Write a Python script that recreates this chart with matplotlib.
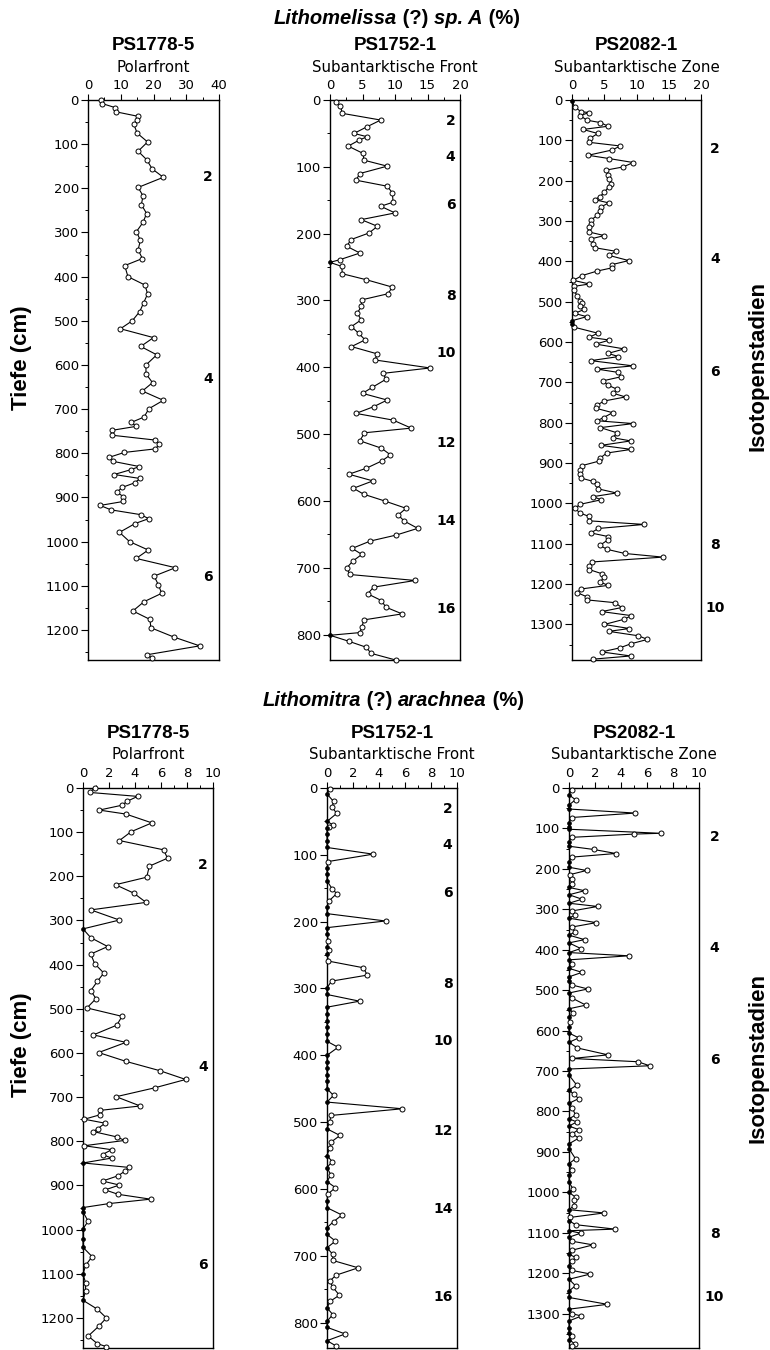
import matplotlib
matplotlib.use("Agg")
import matplotlib.pyplot as plt
from matplotlib.ticker import MultipleLocator
import matplotlib.transforms as mtransforms

# ---------------- data ----------------
# Lithomelissa (?) sp. A (%) -- PS1778-5
lm_1778_depth = [0, 8, 17, 27, 37, 46, 55, 75, 95, 116,
                 135, 156, 175, 198, 217, 237, 257, 277, 298, 318,
                 339, 359, 375, 400, 419, 439, 459, 479, 500, 518,
                 538, 558, 577, 600, 620, 640, 659, 680, 699, 718,
                 730, 739, 748, 759, 770, 780, 790, 798, 809, 818,
                 830, 837, 848, 857, 867, 877, 888, 898, 909, 918,
                 928, 939, 948, 959, 979, 1000, 1019, 1038, 1059, 1078,
                 1098, 1117, 1136, 1157, 1176, 1195, 1216, 1236, 1256, 1264]
lm_1778_value = [4.1, 4.3, 8.2, 8.7, 15.3, 15.0, 14.0, 15.0, 18.2, 15.3,
                 17.9, 19.6, 23.0, 15.3, 16.8, 16.3, 17.9, 16.8, 14.8, 16.0,
                 15.3, 16.6, 11.2, 12.2, 17.4, 18.2, 17.0, 15.8, 13.5, 9.9,
                 20.0, 16.1, 21.0, 17.7, 17.7, 19.7, 16.6, 23.0, 18.6, 17.1,
                 13.2, 14.7, 7.3, 7.3, 20.5, 21.8, 20.5, 11.1, 6.5, 7.5,
                 15.7, 13.1, 8.0, 15.9, 14.2, 10.5, 8.8, 10.8, 10.8, 3.7,
                 7.0, 16.2, 18.5, 14.4, 9.6, 12.7, 18.4, 14.7, 26.7, 20.2,
                 21.5, 22.5, 17.1, 13.7, 18.9, 19.2, 26.2, 34.1, 18.1, 19.6]

# Lithomelissa (?) sp. A (%) -- PS1752-1
lm_1752_depth = [2.5, 9, 20, 30, 40, 50, 55, 60, 69, 80,
                 90, 99, 110, 120, 129, 139, 153, 159, 169, 179,
                 189, 199, 209, 219, 229, 239, 243, 249, 260, 269,
                 280, 290, 299, 309, 319, 329, 339, 349, 359, 369,
                 380, 389, 401, 409, 418, 430, 439, 449, 459, 469,
                 479, 491, 498, 510, 521, 531, 540, 551, 560, 570,
                 581, 590, 600, 611, 621, 630, 641, 651, 660, 671,
                 680, 690, 700, 710, 719, 729, 739, 749, 759, 769,
                 778, 789, 797, 801, 810, 819, 828, 838]
lm_1752_value = [0.9, 1.6, 1.9, 7.8, 5.7, 3.7, 5.7, 4.5, 2.8, 5.1,
                 5.2, 8.8, 4.6, 4.0, 8.8, 9.6, 9.7, 7.8, 10.0, 4.8,
                 7.3, 6.0, 3.2, 2.6, 4.6, 1.5, 0, 1.8, 1.9, 5.6,
                 9.6, 8.9, 4.9, 4.8, 4.2, 4.8, 3.3, 4.4, 5.4, 3.3,
                 7.3, 6.9, 15.4, 8.2, 8.6, 6.5, 5.0, 8.8, 6.7, 4.0,
                 9.7, 12.5, 5.3, 4.6, 7.9, 9.3, 8.0, 5.6, 2.9, 6.6,
                 3.6, 5.2, 8.4, 11.7, 10.5, 11.4, 13.5, 10.2, 6.2, 3.4,
                 4.9, 3.5, 2.6, 3.0, 13.1, 6.7, 5.8, 7.9, 8.6, 11.1,
                 5.2, 4.9, 4.6, 0, 2.9, 5.6, 6.3, 10.1]

# Lithomelissa (?) sp. A (%) -- PS2082-1
lm_2082_depth = [2, 17, 29, 31, 39, 50, 56, 65, 73, 83,
                 95, 105, 114, 124, 137, 145, 155, 166, 174, 186,
                 197, 207, 215, 229, 240, 247, 255, 265, 276, 286,
                 297, 307, 316, 327, 336, 344, 356, 366, 375, 385,
                 398, 408, 416, 424, 435, 447, 456, 462, 472, 485,
                 497, 503, 510, 519, 529, 537, 547, 555, 563, 578,
                 588, 595, 605, 617, 628, 636, 646, 659, 667, 675,
                 686, 696, 707, 717, 727, 736, 746, 756, 764, 775,
                 787, 795, 802, 812, 825, 837, 845, 856, 866, 875,
                 887, 895, 906, 917, 927, 937, 945, 953, 964, 974,
                 983, 991, 1002, 1012, 1024, 1032, 1043, 1052, 1062, 1073,
                 1082, 1090, 1104, 1114, 1124, 1133, 1145, 1154, 1164, 1174,
                 1183, 1195, 1203, 1212, 1221, 1232, 1239, 1246, 1258, 1268,
                 1278, 1287, 1300, 1310, 1317, 1328, 1337, 1348, 1358, 1368,
                 1378, 1386]
lm_2082_value = [0, 0.4, 1.4, 2.6, 1.3, 2.3, 4.4, 5.6, 1.7, 4.0,
                 2.8, 2.7, 7.5, 6.2, 2.5, 5.7, 9.5, 7.9, 5.2, 5.6,
                 5.8, 6.1, 5.7, 5.0, 4.3, 3.5, 5.7, 4.5, 4.3, 3.9,
                 3.0, 2.9, 2.7, 2.6, 5.0, 3.0, 3.2, 3.5, 6.8, 5.7,
                 8.8, 6.2, 6.2, 3.9, 1.6, 0.2, 2.7, 0.3, 0.3, 0.8,
                 1.2, 1.5, 1.3, 1.9, 0.4, 2.3, 0, 0, 0.3, 4.0,
                 2.7, 5.8, 3.7, 8.1, 5.6, 7.2, 2.9, 9.5, 3.9, 7.1,
                 7.6, 4.8, 5.6, 7.0, 6.4, 8.3, 5.0, 3.9, 3.7, 6.3,
                 4.9, 3.9, 9.5, 4.4, 7.0, 6.3, 9.1, 4.5, 9.2, 5.4,
                 4.4, 4.2, 1.6, 1.3, 1.3, 1.4, 3.2, 3.8, 4.1, 6.9,
                 3.3, 4.5, 1.3, 0.4, 1.3, 2.6, 2.6, 11.2, 4.1, 2.9,
                 5.6, 5.6, 4.3, 5.5, 8.2, 14.1, 3.1, 2.7, 2.7, 4.6,
                 4.9, 4.4, 5.6, 1.4, 0.8, 2.4, 2.3, 6.7, 7.7, 4.6,
                 9.2, 8.1, 5.0, 8.9, 5.7, 10.3, 11.7, 9.1, 7.4, 4.6,
                 9.1, 3.2]

# Lithomitra (?) arachnea (%) -- PS1778-5
la_1778_depth = [0, 10, 19, 30, 39, 50, 59, 79, 99, 119,
                 140, 159, 177, 202, 219, 238, 259, 276, 299, 319,
                 339, 359, 376, 398, 419, 438, 459, 477, 498, 517,
                 537, 559, 576, 599, 619, 640, 660, 679, 699, 720,
                 730, 740, 750, 759, 771, 778, 790, 798, 810, 819,
                 830, 838, 849, 859, 868, 878, 890, 899, 910, 920,
                 931, 941, 950, 960, 981, 998, 1021, 1040, 1061, 1081,
                 1101, 1120, 1139, 1160, 1180, 1200, 1219, 1241, 1258, 1265]
la_1778_value = [0.9, 0.5, 4.2, 3.4, 3.0, 1.25, 3.3, 5.3, 3.7, 2.8,
                 6.2, 6.5, 5.1, 4.9, 2.5, 3.9, 4.85, 0.6, 2.8, 0,
                 0.6, 1.9, 0.6, 0.9, 1.6, 1.1, 0.6, 1.0, 0.3, 3.0,
                 2.6, 0.8, 3.3, 1.2, 3.3, 5.9, 7.9, 5.5, 2.55, 4.4,
                 1.3, 1.3, 0.1, 1.7, 1.15, 0.8, 2.6, 3.2, 0.1, 2.2,
                 1.5, 2.2, 0, 3.5, 3.2, 2.7, 1.5, 2.8, 1.7, 2.7,
                 5.2, 2.0, 0, 0, 0.4, 0, 0, 0, 0.7, 0.2,
                 0, 0.2, 0.2, 0, 1.1, 1.8, 1.2, 0.4, 1.1, 1.8]

# Lithomitra (?) arachnea (%) -- PS1752-1
la_1752_depth = [1.5, 9, 20, 29, 38, 50, 55, 58, 60, 69,
                 79, 89, 99, 110, 119, 129, 139, 151, 158, 169,
                 178, 188, 199, 209, 218, 229, 238, 242, 248, 259,
                 269, 280, 289, 299, 309, 319, 328, 338, 348, 358,
                 368, 379, 388, 400, 410, 419, 430, 439, 450, 460,
                 470, 480, 490, 500, 510, 520, 530, 539, 550, 559,
                 568, 579, 589, 598, 608, 618, 628, 639, 649, 658,
                 668, 678, 688, 698, 707, 718, 729, 738, 747, 759,
                 768, 778, 788, 798, 807, 817, 827, 835]
la_1752_value = [0.2, 0, 0.5, 0.4, 0.75, 0, 0.45, 0.15, 0, 0,
                 0, 0, 3.55, 0.1, 0, 0, 0, 0.4, 0.75, 0.15,
                 0, 0, 4.5, 0, 0, 0.1, 0, 0.15, 0, 0.1,
                 2.8, 3.1, 0.35, 0, 0, 2.5, 0, 0, 0, 0,
                 0, 0, 0.85, 0, 0, 0, 0, 0, 0, 0.5,
                 0, 5.8, 0.3, 0.2, 0, 1.0, 0.3, 0.2, 0, 0.4,
                 0, 0.3, 0, 0.65, 0.05, 0, 0, 1.15, 0.5, 0,
                 0, 0.65, 0, 0.45, 0.45, 2.4, 0.7, 0.2, 0.45, 0.95,
                 0.25, 0, 0.45, 0, 0, 1.4, 0, 0.7]

# Lithomitra (?) arachnea (%) -- PS2082-1
la_2082_depth = [4, 17, 29, 42, 52, 62, 73, 86, 97, 102,
                 112, 114, 122, 133, 144, 152, 162, 171, 183, 196,
                 204, 214, 225, 237, 246, 254, 264, 275, 285, 293,
                 304, 314, 322, 333, 344, 356, 364, 375, 383, 397,
                 407, 415, 425, 436, 446, 456, 467, 477, 487, 497,
                 507, 519, 537, 546, 556, 567, 579, 592, 606, 618,
                 629, 643, 660, 669, 677, 687, 695, 710, 735, 747,
                 757, 768, 780, 791, 809, 818, 826, 836, 845, 855,
                 866, 880, 892, 917, 929, 946, 958, 975, 991, 1000,
                 1012, 1020, 1033, 1043, 1051, 1062, 1070, 1080, 1091, 1095,
                 1101, 1111, 1121, 1130, 1143, 1153, 1161, 1171, 1182, 1193,
                 1202, 1215, 1231, 1244, 1260, 1277, 1289, 1300, 1306, 1318,
                 1335, 1347, 1356, 1364, 1375, 1381]
la_2082_value = [0.2, 0, 0.5, 0, 0, 5.1, 0.2, 0, 0, 0,
                 7.05, 5.0, 0.2, 0, 0, 1.9, 3.6, 0.2, 0, 0,
                 1.35, 0.1, 0.25, 0.2, 0, 1.2, 0, 1.0, 0, 2.2,
                 0.25, 0.45, 0, 2.1, 0.2, 0.45, 0, 1.2, 0, 0.9,
                 0, 4.6, 0, 0.2, 0, 1.0, 0, 0, 0.2, 1.45,
                 0, 0.2, 1.3, 0, 0.3, 0, 0.1, 0, 0, 0.75,
                 0, 0.65, 3.0, 0.25, 5.3, 6.2, 0, 0, 0.6, 0,
                 0.35, 0.75, 0, 0.25, 0.5, 0, 0.6, 0, 0.75, 0.25,
                 0.75, 0, 0, 0.5, 0, 0.25, 0, 0, 0.3, 0,
                 0.5, 0.4, 0.4, 0, 2.7, 0.1, 0, 0.5, 3.55, 0,
                 0.9, 0, 0.25, 1.85, 0.25, 0, 0.5, 0.25, 0, 0.2,
                 1.65, 0, 0.5, 0, 0, 2.95, 0, 0.25, 0.95, 0,
                 0, 0, 0.2, 0, 0.45, 0.25]

# text
title_top = [("Lithomelissa", "italic"), (" (?) ", "normal"), ("sp. A", "italic"), (" (%)", "normal")]
title_bottom = [("Lithomitra", "italic"), (" (?) ", "normal"), ("arachnea", "italic"), (" (%)", "normal")]
cores = ["PS1778-5", "PS1752-1", "PS2082-1"]
regions = ["Polarfront", "Subantarktische Front", "Subantarktische Zone"]
stages_1778 = ["2", "4", "6"]
stages_1778_depth = [175, 632, 1080]
stages_1752 = ["2", "4", "6", "8", "10", "12", "14", "16"]
stages_1752_depth = [32, 85, 157, 294, 379, 513, 630, 762]
stages_2082 = ["2", "4", "6", "8", "10"]
stages_2082_depth = [122, 395, 673, 1103, 1258]

# ---------------- figure ----------------
W, H = 770, 1350
fig = plt.figure(figsize=(W / 100, H / 100), dpi=100)
fig.patch.set_facecolor("white")

TICKFONT = "DejaVu Sans"
BOLDFONT = "Liberation Sans"


def add_axes_px(left, top, right, bottom):
    return fig.add_axes([left / W, 1 - bottom / H, (right - left) / W, (bottom - top) / H])


def draw_panel(ax, depth, value, xmax, xmajor, xminor, ymax, core, region,
               st_labels, st_depths, st_x, st_ha):
    ax.plot(value, depth, color="black", lw=0.8, clip_on=False, zorder=3)
    nzv = [v for v in value if v > 0]
    nzd = [d for v, d in zip(value, depth) if v > 0]
    zv = [v for v in value if v <= 0]
    zd = [d for v, d in zip(value, depth) if v <= 0]
    ax.plot(nzv, nzd, "o", ms=3.6, mfc="white", mec="black", mew=0.7,
            clip_on=False, zorder=4)
    ax.plot(zv, zd, "o", ms=2.8, mfc="black", mec="black", mew=0.5,
            clip_on=False, zorder=4)
    ax.set_xlim(0, xmax)
    ax.set_ylim(ymax, 0)
    ax.xaxis.set_major_locator(MultipleLocator(xmajor))
    ax.xaxis.set_minor_locator(MultipleLocator(xminor))
    ax.yaxis.set_major_locator(MultipleLocator(100))
    ax.yaxis.set_minor_locator(MultipleLocator(50))
    ax.tick_params(axis="x", which="both", top=True, bottom=False,
                   labeltop=True, labelbottom=False, direction="out")
    ax.tick_params(axis="x", which="major", length=4, width=0.8, pad=1.5,
                   labelsize=9.5)
    ax.tick_params(axis="x", which="minor", length=2.5, width=0.7)
    ax.tick_params(axis="y", which="both", left=True, right=False,
                   direction="out")
    ax.tick_params(axis="y", which="major", length=5, width=0.8, pad=1.5,
                   labelsize=9.5)
    ax.tick_params(axis="y", which="minor", length=2.5, width=0.7)
    for lab in ax.get_xticklabels() + ax.get_yticklabels():
        lab.set_fontfamily(TICKFONT)
    for sp in ax.spines.values():
        sp.set_linewidth(1.0)
    trans = mtransforms.blended_transform_factory(ax.transAxes, ax.transData)
    for s, d in zip(st_labels, st_depths):
        ax.text(st_x, d, s, transform=trans, ha=st_ha, va="center",
                fontsize=10, fontweight="bold", family=TICKFONT, clip_on=False)
    # headers
    bb = ax.get_position()
    cx = (bb.x0 + bb.x1) / 2
    top_px = (1 - bb.y1) * H
    fig.text(cx, 1 - (top_px - 54) / H, core, ha="center", va="center",
             fontsize=13.5, fontweight="bold", family=BOLDFONT)
    fig.text(cx, 1 - (top_px - 33) / H, region, ha="center", va="center",
             fontsize=10.8, family=TICKFONT)


def rich_title(pieces, cx_px, cy_px, size):
    renderer = fig.canvas.get_renderer()
    texts = []
    widths = []
    for s, style in pieces:
        t = fig.text(0, 0, s, transform=mtransforms.IdentityTransform(),
                     fontsize=size, fontweight="bold", fontstyle=style,
                     family=BOLDFONT, ha="left", va="center")
        texts.append(t)
        widths.append(t.get_window_extent(renderer).width)
    total = sum(widths)
    x = cx_px - total / 2
    y = H - cy_px
    for t, w in zip(texts, widths):
        t.set_position((x, y))
        x += w


# top row
ax1 = add_axes_px(88, 100, 219, 660)
ax2 = add_axes_px(330, 100, 460, 660)
ax3 = add_axes_px(572, 100, 701, 660)
draw_panel(ax1, lm_1778_depth, lm_1778_value, 40, 10, 5, 1268, cores[0], regions[0],
           stages_1778, stages_1778_depth, 0.955, "right")
draw_panel(ax2, lm_1752_depth, lm_1752_value, 20, 5, 2.5, 838, cores[1], regions[1],
           stages_1752, stages_1752_depth, 0.965, "right")
draw_panel(ax3, lm_2082_depth, lm_2082_value, 20, 5, 2.5, 1388, cores[2], regions[2],
           stages_2082, stages_2082_depth, 1.11, "center")

# bottom row
ax4 = add_axes_px(83, 788, 213, 1348)
ax5 = add_axes_px(327, 788, 457, 1348)
ax6 = add_axes_px(569, 788, 699, 1348)
draw_panel(ax4, la_1778_depth, la_1778_value, 10, 2, 1, 1268, cores[0], regions[0],
           stages_1778, stages_1778_depth, 0.96, "right")
draw_panel(ax5, la_1752_depth, la_1752_value, 10, 2, 1, 838, cores[1], regions[1],
           stages_1752, stages_1752_depth, 0.965, "right")
draw_panel(ax6, la_2082_depth, la_2082_value, 10, 2, 1, 1385, cores[2], regions[2],
           stages_2082, stages_2082_depth, 1.12, "center")

rich_title(title_top, 397, 18, 14.5)
rich_title(title_bottom, 393, 700, 14.5)

for cy in (358, 1045):
    fig.text(22 / W, 1 - cy / H, "Tiefe (cm)", rotation=90, ha="center", va="center",
             fontsize=16, fontweight="bold", family=BOLDFONT)
for cy in (366, 1058):
    fig.text(758 / W, 1 - cy / H, "Isotopenstadien", rotation=90, ha="center",
             va="center", fontsize=16, fontweight="bold", family=BOLDFONT)

fig.savefig("out.png", dpi=100, facecolor="white")
